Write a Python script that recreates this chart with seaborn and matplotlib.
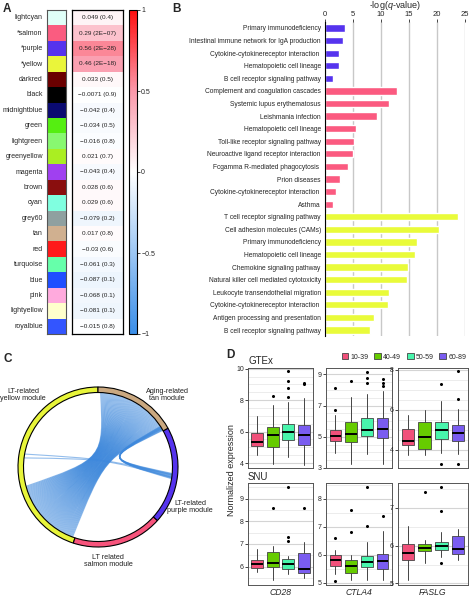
import numpy as np
import pandas as pd
import seaborn as sns
import matplotlib.pyplot as plt
from matplotlib.colors import ListedColormap, LinearSegmentedColormap
from matplotlib.patches import Wedge, PathPatch, Patch
from matplotlib.path import Path
from matplotlib.ticker import MultipleLocator

sns.set_style("white")
plt.rcParams["font.family"] = ["Liberation Sans", "DejaVu Sans"]
plt.rcParams["mathtext.fontset"] = "custom"
plt.rcParams["mathtext.rm"] = "Liberation Sans"
plt.rcParams["mathtext.it"] = "Liberation Sans:italic"

# ---- panel A: module / trait correlation
modules = ["lightcyan", "*salmon", "*purple", "*yellow", "darkred", "black",
           "midnightblue", "green", "lightgreen", "greenyellow", "magenta",
           "brown", "cyan", "grey60", "tan", "red", "turquoise", "blue",
           "pink", "lightyellow", "royalblue"]
module_colors = ["#e0fff8", "#fa5c80", "#5533ee", "#eaf53a", "#6a0000", "#000000",
                 "#0a0a70", "#55ee11", "#88f870", "#aaee22", "#a040f0",
                 "#8a0e0e", "#80ffe0", "#8fa0a0", "#d0b090", "#ff1a1a", "#66ffaa",
                 "#1f4fff", "#ffaadd", "#ffffcc", "#3355ff"]
module_cor = [0.049, 0.29, 0.56, 0.46, 0.033, -0.0071, -0.042, -0.034, -0.016,
              0.021, -0.043, 0.028, 0.029, -0.079, 0.017, -0.03, -0.061, -0.087,
              -0.068, -0.081, -0.015]
module_p = ["0.4", "2E-07", "2E-28", "2E-18", "0.5", "0.9", "0.4", "0.5", "0.8",
            "0.7", "0.4", "0.6", "0.6", "0.2", "0.8", "0.6", "0.3", "0.1",
            "0.1", "0.1", "0.8"]

# ---- panel B: KEGG enrichment
kegg_terms = ["Primary immunodeficiency", "Intestinal immune network for IgA production",
              "Cytokine-cytokinereceptor interaction ", "Hematopoietic cell lineage",
              "B cell receptor signaling pathway",
              "Complement and coagulation cascades", "Systemic lupus erythematosus",
              "Leishmania infection", "Hematopoietic cell lineage",
              "Toll-like receptor signaling pathway", "Neuroactive ligand receptor interaction",
              "Fcgamma R-mediated phagocytosis ", "Prion diseases",
              "Cytokine-cytokinereceptor interaction ", "Asthma",
              "T cell receptor signaling pathway", "Cell adhesion molecules (CAMs)",
              "Primary immunodeficiency", "Hematopoietic cell lineage",
              "Chemokine signaling pathway", "Natural killer cell mediated cytotoxicity",
              "Leukocyte transendothelial migration", "Cytokine-cytokinereceptor interaction ",
              "Antigen processing and presentation", "B cell receptor signaling pathway"]
kegg_neglogq = [3.5, 3.2, 2.5, 2.5, 1.4,
                12.8, 11.5, 9.35, 5.5, 5.2, 5.05, 4.06, 2.7, 1.94, 1.35,
                23.8, 20.4, 16.5, 16.1, 14.9, 14.6, 11.5, 11.3, 8.8, 8.1]
kegg_module = ["purple"] * 5 + ["salmon"] * 10 + ["yellow"] * 10

# ---- panel C: shared genes between modules
chord_modules = ["yellow", "salmon", "purple", "tan"]
chord_arc_deg = [162, 66, 71, 61]
chord_names = {"yellow": "LT-related\nyellow module", "salmon": "LT related\nsalmon module",
               "purple": "LT-related\npurple module", "tan": "Aging-related\ntan module"}
chord_links = [("yellow", "tan", 70), ("tan", "purple", 10), ("yellow", "purple", 2)]

# ---- panel D: expression by age group, (whisker low, q1, median, q3, whisker high)
age_groups = ["10-39", "40-49", "50-59", "60-89"]
genes = ["CD28", "CTLA4", "FASLG"]
gtex_cd28 = [(4.49, 5.11, 5.32, 5.93, 6.97), (3.96, 5.04, 5.76, 6.31, 7.71),
             (4.41, 5.49, 6.00, 6.48, 7.86), (3.90, 5.15, 5.78, 6.40, 8.16)]
gtex_cd28_out = [[], [8.24], [9.83, 9.19, 8.77, 8.18], [9.09, 9.03]]
gtex_ctla4 = [(3.96, 4.74, 5.08, 5.46, 6.42), (3.26, 4.68, 5.17, 5.97, 7.52),
              (3.92, 5.02, 5.46, 6.18, 7.71), (3.26, 4.89, 5.50, 6.18, 7.94)]
gtex_ctla4_out = [[8.11, 6.69], [8.60], [9.15, 8.79, 8.45], [8.72, 8.45, 8.26]]
gtex_faslg = [(3.72, 4.25, 4.43, 5.05, 5.75), (3.72, 4.03, 4.62, 5.38, 5.97),
              (3.83, 4.55, 4.97, 5.40, 6.45), (3.77, 4.43, 4.83, 5.22, 6.05)]
gtex_faslg_out = [[], [], [7.28, 3.27], [7.92, 6.53, 3.27]]
snu_cd28 = [(5.78, 5.94, 6.10, 6.30, 6.77), (5.41, 6.00, 6.15, 6.64, 6.89),
            (5.68, 5.91, 6.12, 6.34, 6.47), (5.51, 5.74, 5.90, 6.59, 7.09)]
snu_cd28_out = [[], [8.59], [9.52, 7.30, 7.11], [8.59]]
snu_ctla4 = [(5.31, 5.61, 5.81, 5.98, 6.17), (5.10, 5.36, 5.61, 5.81, 5.99),
             (5.10, 5.57, 5.73, 5.96, 6.47), (5.10, 5.48, 5.79, 6.02, 6.85)]
snu_ctla4_out = [[6.58, 5.08], [7.58, 6.82], [8.42, 7.03], [7.38]]
snu_faslg = [(5.08, 5.63, 5.81, 6.05, 6.53), (5.54, 5.85, 5.95, 6.04, 6.14),
             (5.70, 5.89, 5.98, 6.10, 6.37), (5.63, 5.78, 5.92, 6.25, 6.44)]
snu_faslg_out = [[], [7.42], [7.56, 6.91, 5.54], []]

W, H = 472, 597
fig = plt.figure(figsize=(W / 100, H / 100), dpi=100)


def px_axes(x0, y0, x1, y1):
    return fig.add_axes([x0 / W, 1 - y1 / H, (x1 - x0) / W, (y1 - y0) / H])


def px_text(x, y, s, **kw):
    fig.text(x / W, 1 - y / H, s, **kw)


# ================= A
ax_c = px_axes(47, 10, 66, 334)
sns.heatmap(np.arange(len(modules)).reshape(-1, 1), ax=ax_c, cmap=ListedColormap(module_colors),
            cbar=False, xticklabels=False, yticklabels=modules)
ax_c.tick_params(axis="y", length=0, labelsize=5, pad=3)
ax_c.set_yticklabels(modules, rotation=0)
for s in ax_c.spines.values():
    s.set_visible(True)
    s.set_color("#555555")
    s.set_linewidth(0.8)

cor_cmap = LinearSegmentedColormap.from_list(
    "cor", [(0, "#3a8ee8"), (0.5, "white"), (0.75, "#fa98aa"), (1, "#ff1010")])
annot = np.array([f"{c} ({p})".replace("-", "\u2212") for c, p in zip(module_cor, module_p)]).reshape(-1, 1)
ax_v = px_axes(72, 10, 123, 334)
cax = px_axes(129, 10, 137, 334)
sns.heatmap(np.array(module_cor).reshape(-1, 1), ax=ax_v, cmap=cor_cmap, vmin=-1, vmax=1,
            annot=annot, fmt="", annot_kws={"size": 4.6, "color": "#222222"},
            cbar_ax=cax, xticklabels=False, yticklabels=False)
for s in ax_v.spines.values():
    s.set_visible(True)
    s.set_color("black")
    s.set_linewidth(0.9)
cb = ax_v.collections[0].colorbar
cb.outline.set_edgecolor("black")
cb.outline.set_linewidth(0.8)
cb.set_ticks([-1, -0.5, 0, 0.5, 1])
cb.set_ticklabels(["\u22121", "\u22120.5", "0", "0.5", "1"])
cax.tick_params(labelsize=5, length=2, width=0.6, pad=1)
px_text(3, 12, "A", fontsize=8.5, fontweight="bold")

# ================= B
ax_b = px_axes(325, 21.7, 465, 336.3)
df_b = pd.DataFrame({"row": [str(i) for i in range(len(kegg_terms))],
                     "value": kegg_neglogq, "module": kegg_module})
sns.barplot(data=df_b, x="value", y="row", hue="module", dodge=False, width=0.58,
            palette={"purple": "#5533ee", "salmon": "#fb5a80", "yellow": "#e9fb3a"},
            saturation=1, legend=False, ax=ax_b, orient="h")
ax_b.set_xlim(0, 25)
ax_b.set_ylim(len(kegg_terms) - 0.5, -0.5)
ax_b.set_yticks(range(len(kegg_terms)))
ax_b.set_yticklabels(kegg_terms)
ax_b.set_ylabel("")
ax_b.xaxis.tick_top()
ax_b.xaxis.set_label_position("top")
ax_b.set_xticks([0, 5, 10, 15, 20, 25])
ax_b.set_xlabel(r"-log($\it{q}$-value)", fontsize=6.5, labelpad=2)
ax_b.tick_params(axis="y", length=0, labelsize=4.8, pad=3)
ax_b.tick_params(axis="x", length=2, width=0.6, labelsize=5.5, pad=1)
ax_b.grid(axis="x", color="#c8c8c8", lw=1)
ax_b.set_axisbelow(True)
for k in ["top", "right", "bottom"]:
    ax_b.spines[k].set_visible(False)
ax_b.spines["left"].set_color("black")
ax_b.spines["left"].set_linewidth(0.8)
px_text(172, 12, "B", fontsize=8.5, fontweight="bold")

# ================= C
ax_ch = px_axes(0, 370, 200, 590)
ax_ch.set_xlim(-98, 102)
ax_ch.set_ylim(-123, 97)
ax_ch.axis("off")
R_out, ring_w = 80, 5.5
R_in = R_out - ring_w
ring_colors = {"yellow": "#e8f53a", "salmon": "#f7547c", "purple": "#5533ee", "tan": "#caa880"}
a0 = 90
for m, span in zip(chord_modules, chord_arc_deg):
    ax_ch.add_patch(Wedge((0, 0), R_out, a0, a0 + span, width=ring_w,
                          facecolor=ring_colors[m], edgecolor="black", lw=0.8, zorder=3))
    a0 += span

label_pos = {"yellow": (-75, 72), "tan": (69, 72), "purple": (92, -40), "salmon": (10, -94)}
for m in chord_modules:
    ax_ch.text(*label_pos[m], chord_names[m], fontsize=5.2, ha="center", va="center",
               linespacing=1.15, color="#222222")

# angular ranges used by each link on each module (layout)
link_span = {("yellow", "tan"): ((195, 250), (88, 31)),
             ("tan", "purple"): ((29.5, 33), (-5, -9)),
             ("yellow", "purple"): ((170, 173), (-6, -8))}
ctrl = (6, 8)
for a, b, n in chord_links:
    (sa0, sa1), (sb0, sb1) = link_span[(a, b)]
    for t in np.linspace(0, 1, n):
        ta = np.deg2rad(sa0 + (sa1 - sa0) * t)
        tb = np.deg2rad(sb0 + (sb1 - sb0) * t)
        p0 = (R_in * np.cos(ta), R_in * np.sin(ta))
        p2 = (R_in * np.cos(tb), R_in * np.sin(tb))
        path = Path([p0, ctrl, ctrl, p2], [Path.MOVETO, Path.CURVE4, Path.CURVE4, Path.CURVE4])
        ax_ch.add_patch(PathPatch(path, fill=False, edgecolor="#3d88dc", lw=0.8, alpha=0.55))
px_text(3, 362, "C", fontsize=8.5, fontweight="bold")

# ================= D
box_colors = ["#f0507a", "#66cc00", "#48f5ac", "#7a5cf0"]
cols = [(248, 313), (326, 392), (398, 468)]
rows = [(368, 468), (483, 585)]
panels = [
    [(gtex_cd28, gtex_cd28_out, (3.69, 10.04), [4, 6, 8, 10]),
     (gtex_ctla4, gtex_ctla4_out, (3.0, 9.4), [3, 5, 7, 9]),
     (gtex_faslg, gtex_faslg_out, (3.08, 8.08), [4, 6, 8])],
    [(snu_cd28, snu_cd28_out, (5.19, 9.69), [6, 7, 8, 9]),
     (snu_ctla4, snu_ctla4_out, (4.92, 8.56), [5, 6, 7, 8]),
     (snu_faslg, snu_faslg_out, (4.96, 7.66), [5, 6, 7])],
]
for r, (y0, y1) in enumerate(rows):
    for c, (x0, x1) in enumerate(cols):
        boxes, outs, ylim, yticks = panels[r][c]
        ax = px_axes(x0, y0, x1, y1)
        stats = [dict(whislo=b[0], q1=b[1], med=b[2], q3=b[3], whishi=b[4], fliers=o)
                 for b, o in zip(boxes, outs)]
        bp = ax.bxp(stats, positions=[1, 2, 3, 4], widths=0.75, patch_artist=True,
                    showcaps=False,
                    boxprops=dict(edgecolor="#444444", lw=0.6),
                    whiskerprops=dict(color="#444444", lw=0.7),
                    medianprops=dict(color="black", lw=1.4),
                    flierprops=dict(marker="o", markersize=1.2, markerfacecolor="black",
                                    markeredgecolor="black"))
        for patch, col in zip(bp["boxes"], box_colors):
            patch.set_facecolor(col)
        ax.set_xlim(0.4, 4.6)
        ax.set_ylim(*ylim)
        ax.set_yticks(yticks)
        ax.yaxis.set_minor_locator(MultipleLocator(0.5))
        ax.grid(axis="y", which="major", color="#d4d4d4", lw=0.8)
        ax.grid(axis="y", which="minor", color="#e4e4e4", lw=0.5)
        ax.set_axisbelow(True)
        ax.tick_params(axis="y", which="major", labelsize=5, length=2, width=0.6, pad=1,
                       left=True)
        ax.tick_params(axis="y", which="minor", length=0)
        ax.tick_params(axis="x", length=0)
        if r == 1:
            ax.set_xticks([2.5])
            ax.set_xticklabels([genes[c]], fontsize=6.2, style="italic")
            ax.tick_params(axis="x", pad=2)
        else:
            ax.set_xticks([])
        for s in ax.spines.values():
            s.set_color("#555555")
            s.set_linewidth(0.7)

px_text(248, 364, "GTEx", fontsize=7)
px_text(248, 480, "SNU", fontsize=7)
fig.text(232 / W, 1 - 470 / H, "Normalized expression", rotation=90, fontsize=6.5,
         ha="center", va="center")
px_text(226, 358, "D", fontsize=8.5, fontweight="bold")
handles = [Patch(facecolor=col, edgecolor="#444444", lw=0.6) for col in box_colors]
fig.legend(handles, age_groups, loc="center", bbox_to_anchor=(404 / W, 1 - 357 / H), ncol=4,
           frameon=False, fontsize=5, handlelength=1.0, handleheight=0.9,
           handletextpad=0.3, columnspacing=0.8, borderpad=0)

fig.savefig("out.png", dpi=100)
